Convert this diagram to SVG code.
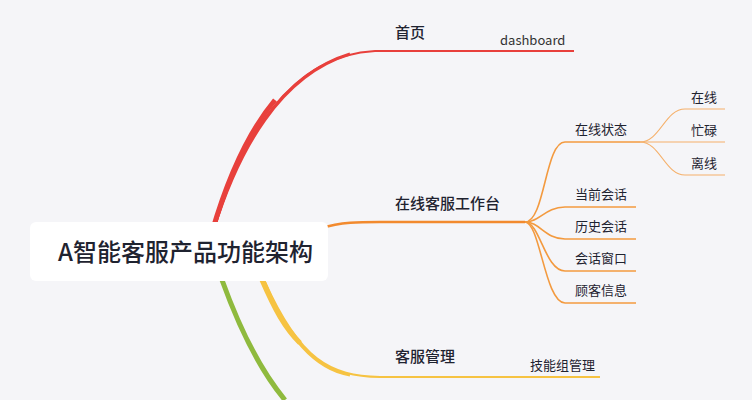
<svg xmlns="http://www.w3.org/2000/svg" width="752" height="400" viewBox="0 0 752 400">
<style>
text{font-family:"Noto Sans CJK SC","Noto Sans",sans-serif;fill:#1f2330}
.t1{font-size:15px;font-weight:500}
.t2{font-size:13px}
.o{fill:none;stroke:#f39a3f;stroke-width:1.6}
.o2{fill:none;stroke:#f5b06a;stroke-width:1.2}
</style>
<rect width="752" height="400" fill="#f5f5f8"/>
<g id="connectors">
<path d="M214 230 C 240 140 290 55 375 51 L 574 51" fill="none" stroke="#e8403c" stroke-width="2"/>
<path d="M213 231 C 238 150 280 75 350 54" fill="none" stroke="#e8403c" stroke-width="3.2"/>
<path d="M212 232 C 230 170 250 130 275 100" fill="none" stroke="#e8403c" stroke-width="5"/>
<path d="M322 228 C 340 222 360 222 380 222 L 525 222" fill="none" stroke="#f28a2e" stroke-width="2.5"/>
<path d="M265 282 C 300 360 330 376 380 377 L 600 377" fill="none" stroke="#f6c342" stroke-width="2"/>
<path d="M264 281 C 290 345 320 370 350 375" fill="none" stroke="#f6c342" stroke-width="3.2"/>
<path d="M262 280 C 275 310 285 328 300 343" fill="none" stroke="#f6c342" stroke-width="5"/>
<path d="M222 280 C 240 330 260 370 285 400" fill="none" stroke="#8fba3e" stroke-width="5"/>
<path class="o" d="M525 222 C 545 222 545 142 565 142 L 640 142"/>
<path class="o" d="M525 222 C 540 222 545 207 565 207 L 636 207"/>
<path class="o" d="M525 222 C 540 222 545 239 565 239 L 636 239"/>
<path class="o" d="M525 222 C 540 222 545 271 565 271 L 636 271"/>
<path class="o" d="M525 222 C 540 222 545 303 565 303 L 636 303"/>
<path class="o2" d="M640 142 C 660 142 665 109 685 109 L 725 109"/>
<path class="o2" d="M640 142 L 725 142"/>
<path class="o2" d="M640 142 C 660 142 665 175 685 175 L 725 175"/>
</g>
<g id="root"><rect x="30" y="222" width="298" height="59" rx="6" fill="#fff"/><text x="58" y="261" style="font-size:24px;font-weight:500">A智能客服产品功能架构</text></g>
<g id="n1"><text class="t1" x="395" y="38">首页</text></g>
<g id="n1a"><text class="t2" x="500" y="45" style="fill:#333">dashboard</text></g>
<g id="n2"><text class="t1" x="395" y="209">在线客服工作台</text></g>
<g id="n3"><text class="t1" x="395" y="362">客服管理</text></g>
<g id="n3a"><text class="t2" x="530" y="370">技能组管理</text></g>
<g id="n21"><text class="t2" x="575" y="134">在线状态</text></g>
<g id="n22"><text class="t2" x="575" y="199">当前会话</text></g>
<g id="n23"><text class="t2" x="575" y="231">历史会话</text></g>
<g id="n24"><text class="t2" x="575" y="263">会话窗口</text></g>
<g id="n25"><text class="t2" x="575" y="295">顾客信息</text></g>
<g id="n211"><text class="t2" x="691" y="102">在线</text></g>
<g id="n212"><text class="t2" x="691" y="135">忙碌</text></g>
<g id="n213"><text class="t2" x="691" y="168">离线</text></g>
</svg>
